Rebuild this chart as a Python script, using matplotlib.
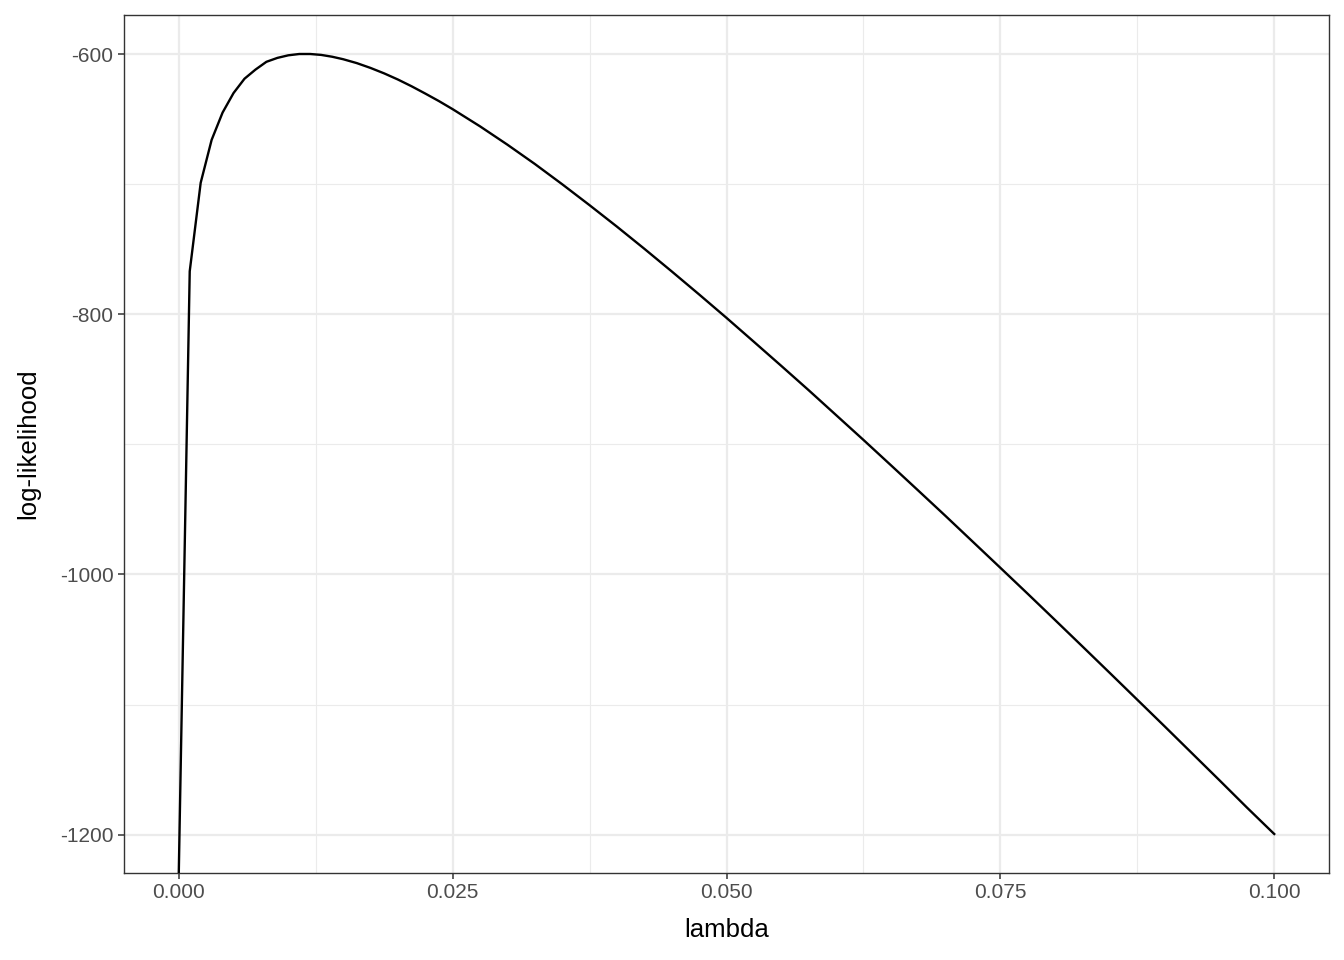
import matplotlib
matplotlib.use("Agg")
import matplotlib.pyplot as plt
import numpy as np
from matplotlib.ticker import MultipleLocator, FormatStrFormatter

# log-likelihood (lambda = 0 goes to -Inf)
lam = [0.000, 0.001, 0.002, 0.003, 0.004, 0.005, 0.006, 0.007, 0.008, 0.009,
       0.010, 0.011, 0.012, 0.013, 0.014, 0.015, 0.01625, 0.0175, 0.01875, 0.020,
       0.02125, 0.0225, 0.02375, 0.025, 0.0275, 0.030, 0.0325, 0.035, 0.0375, 0.040,
       0.0425, 0.045, 0.0475, 0.050, 0.0525, 0.055, 0.0575, 0.060, 0.0625, 0.065,
       0.0675, 0.070, 0.0725, 0.075, 0.0775, 0.080, 0.0825, 0.085, 0.0875, 0.090,
       0.0925, 0.095, 0.0975, 0.100]
loglik = [-np.inf, -767, -699, -666, -645, -630, -619, -612, -606, -603,
          -601, -600, -600, -600.7, -602.1, -604, -607, -610.7, -614.9, -619.6,
          -624.8, -630.4, -636.2, -642.4, -655.6, -669.7, -684.5, -700.1, -716.2, -732.7,
          -749.7, -767.1, -784.8, -802.8, -821.2, -839.7, -858.4, -877.5, -896.6, -916.0,
          -935.5, -955.1, -975.0, -994.9, -1014.9, -1035.1, -1055.4, -1075.8, -1096.3, -1116.8,
          -1137.5, -1158.2, -1179.1, -1199.5]

plt.rcParams['font.family'] = ['Liberation Sans', 'DejaVu Sans']
plt.rcParams['axes.unicode_minus'] = False

fig = plt.figure(figsize=(13.44, 9.6), dpi=100)
ax = fig.add_axes([124 / 1344, 1 - 873 / 960, (1329 - 124) / 1344, (873 - 15) / 960])

# ggplot-like limits with 5% expansion
finite = [v for v in loglik if np.isfinite(v)]
ymin, ymax = min(finite), max(finite)
yr = ymax - ymin
ax.set_xlim(-0.005, 0.105)
ax.set_ylim(ymin - 0.05 * yr, ymax + 0.05 * yr)

# -Inf is drawn at the panel edge, as ggplot does
y_plot = np.where(np.isfinite(loglik), loglik, ax.get_ylim()[0])
ax.plot(lam, y_plot, color='black', linewidth=1.7, solid_joinstyle='round', zorder=3)

ax.xaxis.set_major_locator(MultipleLocator(0.025))
ax.xaxis.set_minor_locator(MultipleLocator(0.0125))
ax.yaxis.set_major_locator(MultipleLocator(200))
ax.yaxis.set_minor_locator(MultipleLocator(100))
ax.xaxis.set_major_formatter(FormatStrFormatter('%.3f'))
ax.yaxis.set_major_formatter(FormatStrFormatter('%d'))

ax.grid(which='minor', color='#EBEBEB', linewidth=0.8, zorder=0)
ax.grid(which='major', color='#EBEBEB', linewidth=1.6, zorder=0)
ax.set_axisbelow(True)

ax.tick_params(which='major', length=4, width=1.1, color='#333333',
               labelcolor='#4D4D4D', labelsize=15, pad=3.5)
ax.tick_params(which='minor', length=0)
for sp in ax.spines.values():
    sp.set_color('#333333')
    sp.set_linewidth(1.0)

ax.set_xlabel('lambda', fontsize=18.5, labelpad=11)
ax.set_ylabel('log-likelihood', fontsize=18.5, labelpad=14)

fig.savefig('out.png', dpi=100)
